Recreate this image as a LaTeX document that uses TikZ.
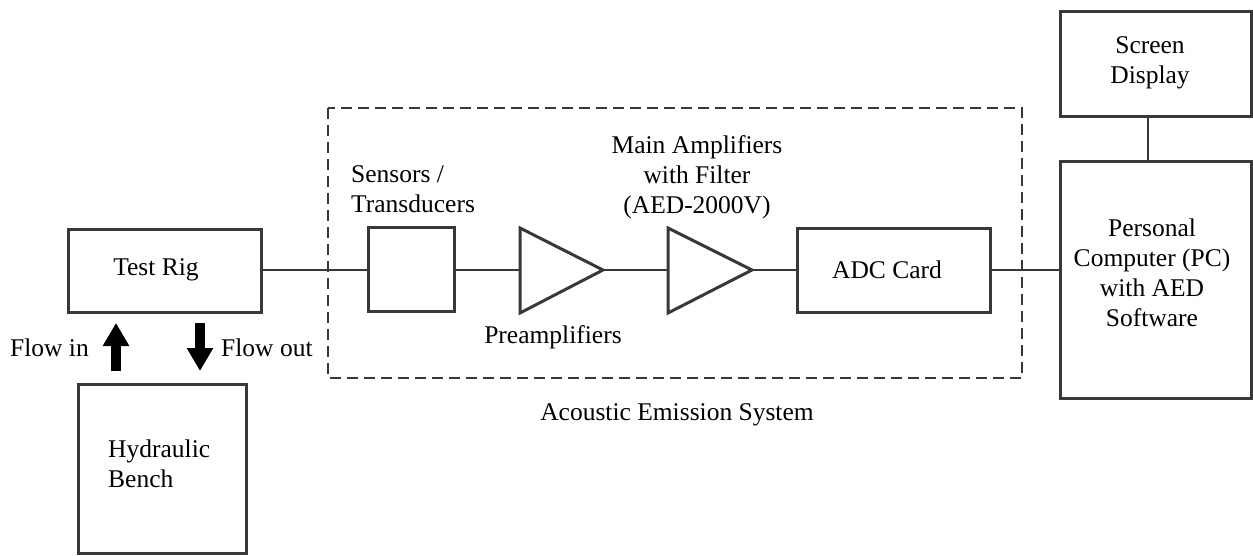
\documentclass[tikz,border=0pt]{standalone}
\usepackage{fontspec}
\setmainfont{Liberation Serif}
\usetikzlibrary{arrows.meta}
\definecolor{ln}{gray}{0.22}
\begin{document}
\begin{tikzpicture}[x=1pt,y=-1pt,
  blk/.style={draw=ln,line width=3pt},
  wire/.style={draw=ln,line width=2.8pt},
  lbl/.style={font=\fontsize{25.5}{30}\selectfont,inner sep=0pt,align=center},
  flow/.style={line width=10pt,-{Triangle[length=23pt,width=25pt]},black}]
\useasboundingbox (0,0) rectangle (1253,556);
% boxes
\draw[blk] (68,230) rectangle (261,312);
\node[lbl] (testrig) at (156,270) {Test Rig};
\coordinate (trR) at (261,270);
\draw[blk] (78,384) rectangle (246,553);
\node[lbl,align=left,anchor=west] (hyd) at (108,464) {Hydraulic\\Bench};
\draw[blk] (368,228) rectangle (454,311);
\coordinate (senL) at (368,270);
\coordinate (senR) at (454,270);
% triangles
\draw[blk,line join=miter] (520,228) -- (603,270) -- (520,313) -- cycle;
\coordinate (t1L) at (520,270);
\coordinate (t1R) at (603,270);
\draw[blk,line join=miter] (668,228) -- (752,270) -- (668,313) -- cycle;
\coordinate (t2L) at (668,270);
\coordinate (t2R) at (752,270);
\draw[blk] (797,229) rectangle (990,312);
\node[lbl] (adc) at (887,270) {ADC Card};
\coordinate (adcL) at (797,270);
\coordinate (adcR) at (990,270);
\draw[blk] (1060,162) rectangle (1251,398);
\node[lbl] (pc) at (1152,273) {Personal\\Computer (PC)\\with AED\\Software};
\coordinate (pcL) at (1060,270);
\coordinate (pcT) at (1148,162);
\draw[blk] (1060,12) rectangle (1251,117);
\node[lbl] (scr) at (1150,63) {Screen\\Display};
\coordinate (scrB) at (1148,117);
% dashed system box
\draw[draw=ln,line width=2.2pt,dash pattern=on 11pt off 6pt] (328,108) rectangle (1022,378);
% wires
\draw[wire] (trR) -- (senL);
\draw[wire] (senR) -- (t1L);
\draw[wire] (t1R) -- (t2L);
\draw[wire] (t2R) -- (adcL);
\draw[wire] (adcR) -- (pcL);
\draw[wire] (scrB) -- (pcT);
% flow arrows
\coordinate (inA) at (116,371);
\coordinate (inB) at (116,323);
\coordinate (outA) at (200,323);
\coordinate (outB) at (200,371);
\draw[flow] (inA) -- (inB);
\draw[flow] (outA) -- (outB);
% labels
\node[lbl,anchor=east] (fin) at (89,348) {Flow in};
\node[lbl,anchor=west] (fout) at (221,348) {Flow out};
\node[lbl,align=left,anchor=west] (sen) at (351,189) {Sensors /\\Transducers};
\node[lbl] (main) at (697,177) {Main Amplifiers\\with Filter\\(AED-2000V)};
\node[lbl] (pre) at (553,337) {Preamplifiers};
\node[lbl] (aes) at (677,415) {Acoustic Emission System};
\end{tikzpicture}
\end{document}
